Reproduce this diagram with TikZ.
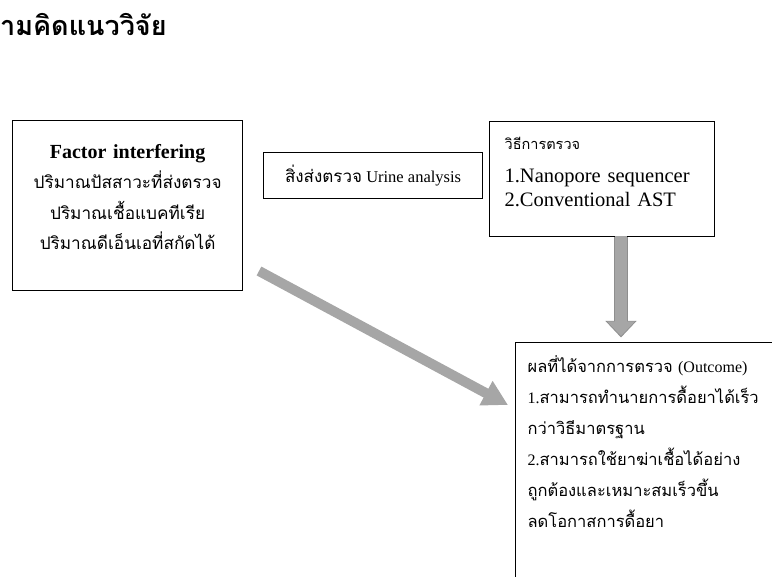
\documentclass[tikz,border=0pt]{standalone}
\usepackage{fontspec}
\setmainfont{Liberation Serif}
\newfontfamily\thai[Script=Thai]{Loma}
\usetikzlibrary{positioning,arrows.meta}

\definecolor{arrowgray}{HTML}{A6A6A6}
\definecolor{edgegray}{HTML}{8E8E8E}
\newcommand\thtxt[2]{{\fontsize{#1}{#1}\selectfont\thai #2}}
\newcommand\lowstrut[1]{\rule[-#1]{0pt}{#1}}

\tikzset{
  box/.style={draw, line width=1.2pt, inner sep=0pt},
  fatarrow/.style={draw=arrowgray, line cap=butt},
}

\begin{document}
\begin{tikzpicture}[x=1pt, y=-1pt]
\path[use as bounding box, clip] (0,0) rectangle (772,577);

% heading
\node[anchor=base west, inner sep=0pt] (title) at (0,36)
  {\fontsize{27}{27}\selectfont\thai\bfseries ามคิดแนววิจัย};

% factors
\node[box, anchor=north west, minimum width=230pt, minimum height=170pt,
  text width=230pt, align=center, font=\fontsize{20}{30.5}\selectfont] (factor) at (12,120)
  {\textbf{Factor interfering}\\
   \thtxt{17.2}{ปริมาณปัสสาวะที่ส่งตรวจ}\\
   \thtxt{17.2}{ปริมาณเชื้อแบคทีเรีย}\\
   \thtxt{17.2}{ปริมาณดีเอ็นเอที่สกัดได้}\lowstrut{17pt}};

% specimen
\node[box, anchor=north west, minimum width=219pt, minimum height=46pt,
  font=\fontsize{16.5}{20}\selectfont] (urine) at (263,152)
  {\thtxt{17}{สิ่งส่งตรวจ} Urine analysis};

% methods
\node[box, anchor=north west, minimum width=225pt, minimum height=115pt,
  text width=195pt, inner xsep=15pt, align=left,
  font=\fontsize{20.5}{23.5}\selectfont] (method) at (489,121)
  {\thtxt{14.5}{วิธีการตรวจ}\\[10pt]
   1.Nanopore sequencer\\
   2.Conventional AST\lowstrut{15pt}};

% outcome
\node[box, anchor=north west,
  text width=280pt, inner xsep=12pt, inner ysep=13pt, align=left,
  font=\fontsize{16}{31}\selectfont] (outcome) at (515,342)
  {\thtxt{16.5}{ผลที่ได้จากการตรวจ} (Outcome)\\
   1.\thtxt{16.5}{สามารถทำนายการดื้อยาได้เร็ว}\\
   \thtxt{16.5}{กว่าวิธีมาตรฐาน}\\
   2.\thtxt{16.5}{สามารถใช้ยาฆ่าเชื้อได้อย่าง}\\
   \thtxt{16.5}{ถูกต้องและเหมาะสมเร็วขึ้น}\\
   \thtxt{16.5}{ลดโอกาสการดื้อยา}\lowstrut{90pt}};

\coordinate (vx) at (621,0);
\coordinate (dtail) at (259,271);
\coordinate (dtip) at (508,405);

% method -> outcome
\draw[draw=edgegray, line width=14.5pt, line cap=butt,
  -{Triangle[width=30pt,length=16.5pt]}, shorten >=4.5pt]
  (method.south -| vx) -- (outcome.north -| vx);
\draw[fatarrow, line width=12pt, -{Triangle[width=27pt,length=14.5pt]}, shorten >=6pt]
  ([yshift=0.7pt]method.south -| vx) -- (outcome.north -| vx);
% factors -> outcome
\draw[fatarrow, line width=10pt, -{Triangle[width=26pt,length=25pt]}]
  (dtail) -- (dtip);

\end{tikzpicture}
\end{document}
